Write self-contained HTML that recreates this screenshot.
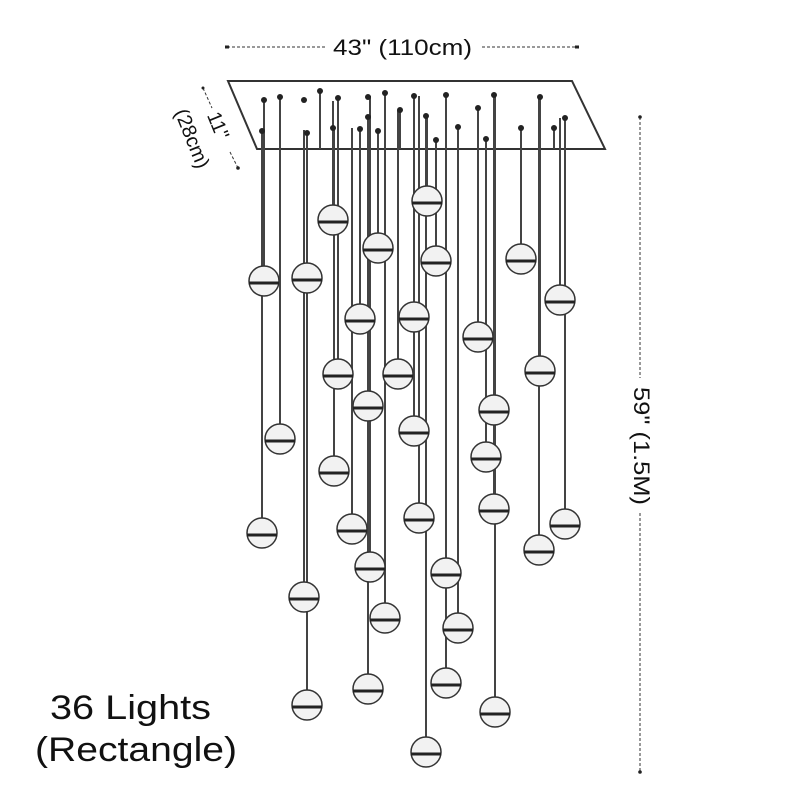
<!DOCTYPE html>
<html><head><meta charset="utf-8"><style>
html,body{margin:0;padding:0;background:#fff;}
svg{display:block}
text{font-family:"Liberation Sans",sans-serif;fill:#111}
</style></head><body>
<svg width="800" height="800" viewBox="0 0 800 800" xmlns="http://www.w3.org/2000/svg">
<rect width="800" height="800" fill="#fff"/>
<line x1="227" y1="47" x2="325" y2="47" stroke="#333" stroke-width="1" stroke-dasharray="3,2"/>
<line x1="482" y1="47" x2="578" y2="47" stroke="#333" stroke-width="1" stroke-dasharray="3,2"/>
<rect x="225" y="45.5" width="4" height="3" fill="#222"/><rect x="575" y="45.5" width="4" height="3" fill="#222"/>
<text x="333" y="55" font-size="22" textLength="139" lengthAdjust="spacingAndGlyphs">43" (110cm)</text>
<line x1="203" y1="88" x2="212" y2="108" stroke="#333" stroke-dasharray="3,2"/>
<line x1="230" y1="152" x2="238" y2="168" stroke="#333" stroke-dasharray="3,2"/>
<circle cx="238" cy="168" r="1.8" fill="#222"/><circle cx="203" cy="88" r="1.5" fill="#222"/>
<text transform="translate(212,128) rotate(68)" font-size="20" text-anchor="middle">11"</text>
<text transform="translate(186,141) rotate(68)" font-size="20" text-anchor="middle">(28cm)</text>
<line x1="640" y1="117" x2="640" y2="378" stroke="#333" stroke-dasharray="3,2"/>
<line x1="640" y1="513" x2="640" y2="772" stroke="#333" stroke-dasharray="3,2"/>
<circle cx="640" cy="117" r="1.8" fill="#222"/><circle cx="640" cy="772" r="1.8" fill="#222"/>
<text transform="translate(634,387) rotate(90)" font-size="22" textLength="118" lengthAdjust="spacingAndGlyphs">59" (1.5M)</text>
<polygon points="228,81 572,81 605,149 257,149" fill="#fff" stroke="#333" stroke-width="2"/>
<g stroke="#444" stroke-width="2">
<line x1="264" y1="100" x2="264" y2="281"/><line x1="307" y1="133" x2="307" y2="278"/>
<line x1="333" y1="101" x2="333" y2="220"/><line x1="378" y1="131" x2="378" y2="248"/>
<line x1="427" y1="118" x2="427" y2="201"/><line x1="436" y1="140" x2="436" y2="261"/>
<line x1="521" y1="128" x2="521" y2="259"/><line x1="560" y1="118" x2="560" y2="300"/>
<line x1="360" y1="129" x2="360" y2="319"/><line x1="414" y1="96" x2="414" y2="317"/>
<line x1="478" y1="108" x2="478" y2="337"/><line x1="338" y1="98" x2="338" y2="374"/>
<line x1="398" y1="110" x2="398" y2="374"/><line x1="368" y1="117" x2="368" y2="406"/>
<line x1="540" y1="97" x2="540" y2="371"/><line x1="494" y1="95" x2="494" y2="410"/>
<line x1="280" y1="97" x2="280" y2="439"/><line x1="414" y1="96" x2="414" y2="431"/>
<line x1="486" y1="139" x2="486" y2="457"/><line x1="334" y1="128" x2="334" y2="471"/>
<line x1="494" y1="95" x2="494" y2="509"/><line x1="262" y1="131" x2="262" y2="533"/>
<line x1="352" y1="128" x2="352" y2="529"/><line x1="419" y1="96" x2="419" y2="518"/>
<line x1="565" y1="118" x2="565" y2="524"/><line x1="539" y1="97" x2="539" y2="550"/>
<line x1="370" y1="96" x2="370" y2="567"/><line x1="446" y1="95" x2="446" y2="573"/>
<line x1="304" y1="130" x2="304" y2="597"/><line x1="385" y1="93" x2="385" y2="618"/>
<line x1="458" y1="127" x2="458" y2="628"/><line x1="368" y1="117" x2="368" y2="689"/>
<line x1="446" y1="95" x2="446" y2="683"/><line x1="307" y1="133" x2="307" y2="705"/>
<line x1="495" y1="95" x2="495" y2="712"/><line x1="426" y1="116" x2="426" y2="752"/>
<line x1="320" y1="91" x2="320" y2="149"/><line x1="554" y1="128" x2="554" y2="149"/>
<line x1="400" y1="110" x2="400" y2="149"/>
</g>
<g fill="#222">
<circle cx="264" cy="100" r="3"/><circle cx="280" cy="97" r="3"/><circle cx="262" cy="131" r="3"/><circle cx="304" cy="100" r="3"/><circle cx="307" cy="133" r="3"/><circle cx="320" cy="91" r="3"/><circle cx="338" cy="98" r="3"/><circle cx="333" cy="128" r="3"/><circle cx="368" cy="97" r="3"/><circle cx="368" cy="117" r="3"/><circle cx="385" cy="93" r="3"/><circle cx="360" cy="129" r="3"/><circle cx="378" cy="131" r="3"/><circle cx="400" cy="110" r="3"/><circle cx="414" cy="96" r="3"/><circle cx="426" cy="116" r="3"/><circle cx="436" cy="140" r="3"/><circle cx="446" cy="95" r="3"/><circle cx="458" cy="127" r="3"/><circle cx="478" cy="108" r="3"/><circle cx="486" cy="139" r="3"/><circle cx="494" cy="95" r="3"/><circle cx="521" cy="128" r="3"/><circle cx="540" cy="97" r="3"/><circle cx="554" cy="128" r="3"/><circle cx="565" cy="118" r="3"/>
</g>
<g fill="#f2f2f2" stroke="#333" stroke-width="1.5">
<circle cx="264" cy="281" r="15"/><circle cx="307" cy="278" r="15"/><circle cx="333" cy="220" r="15"/><circle cx="378" cy="248" r="15"/><circle cx="427" cy="201" r="15"/><circle cx="436" cy="261" r="15"/><circle cx="521" cy="259" r="15"/><circle cx="560" cy="300" r="15"/><circle cx="360" cy="319" r="15"/><circle cx="414" cy="317" r="15"/><circle cx="478" cy="337" r="15"/><circle cx="338" cy="374" r="15"/><circle cx="398" cy="374" r="15"/><circle cx="368" cy="406" r="15"/><circle cx="540" cy="371" r="15"/><circle cx="494" cy="410" r="15"/><circle cx="280" cy="439" r="15"/><circle cx="414" cy="431" r="15"/><circle cx="486" cy="457" r="15"/><circle cx="334" cy="471" r="15"/><circle cx="494" cy="509" r="15"/><circle cx="262" cy="533" r="15"/><circle cx="352" cy="529" r="15"/><circle cx="419" cy="518" r="15"/><circle cx="565" cy="524" r="15"/><circle cx="539" cy="550" r="15"/><circle cx="370" cy="567" r="15"/><circle cx="446" cy="573" r="15"/><circle cx="304" cy="597" r="15"/><circle cx="385" cy="618" r="15"/><circle cx="458" cy="628" r="15"/><circle cx="368" cy="689" r="15"/><circle cx="446" cy="683" r="15"/><circle cx="307" cy="705" r="15"/><circle cx="495" cy="712" r="15"/><circle cx="426" cy="752" r="15"/>
</g>
<g stroke="#222" stroke-width="3">
<line x1="249" y1="283" x2="279" y2="283"/><line x1="292" y1="280" x2="322" y2="280"/><line x1="318" y1="222" x2="348" y2="222"/><line x1="363" y1="250" x2="393" y2="250"/><line x1="412" y1="203" x2="442" y2="203"/><line x1="421" y1="263" x2="451" y2="263"/><line x1="506" y1="261" x2="536" y2="261"/><line x1="545" y1="302" x2="575" y2="302"/><line x1="345" y1="321" x2="375" y2="321"/><line x1="399" y1="319" x2="429" y2="319"/><line x1="463" y1="339" x2="493" y2="339"/><line x1="323" y1="376" x2="353" y2="376"/><line x1="383" y1="376" x2="413" y2="376"/><line x1="353" y1="408" x2="383" y2="408"/><line x1="525" y1="373" x2="555" y2="373"/><line x1="479" y1="412" x2="509" y2="412"/><line x1="265" y1="441" x2="295" y2="441"/><line x1="399" y1="433" x2="429" y2="433"/><line x1="471" y1="459" x2="501" y2="459"/><line x1="319" y1="473" x2="349" y2="473"/><line x1="479" y1="511" x2="509" y2="511"/><line x1="247" y1="535" x2="277" y2="535"/><line x1="337" y1="531" x2="367" y2="531"/><line x1="404" y1="520" x2="434" y2="520"/><line x1="550" y1="526" x2="580" y2="526"/><line x1="524" y1="552" x2="554" y2="552"/><line x1="355" y1="569" x2="385" y2="569"/><line x1="431" y1="575" x2="461" y2="575"/><line x1="289" y1="599" x2="319" y2="599"/><line x1="370" y1="620" x2="400" y2="620"/><line x1="443" y1="630" x2="473" y2="630"/><line x1="353" y1="691" x2="383" y2="691"/><line x1="431" y1="685" x2="461" y2="685"/><line x1="292" y1="707" x2="322" y2="707"/><line x1="480" y1="714" x2="510" y2="714"/><line x1="411" y1="754" x2="441" y2="754"/>
</g>
<text x="50" y="719" font-size="34" textLength="161" lengthAdjust="spacingAndGlyphs">36 Lights</text>
<text x="35" y="761" font-size="34" textLength="202" lengthAdjust="spacingAndGlyphs">(Rectangle)</text>
</svg>
</body></html>
